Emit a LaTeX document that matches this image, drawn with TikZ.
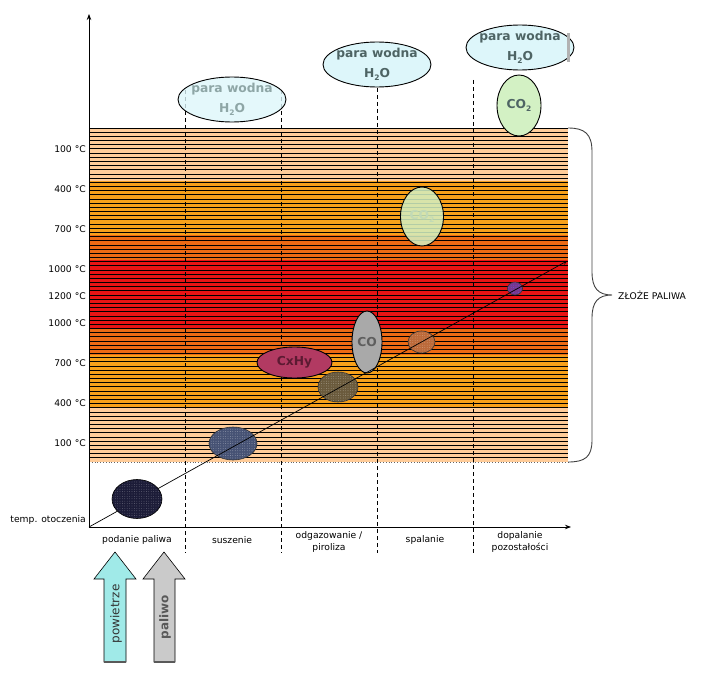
\documentclass[tikz,border=0pt]{standalone}
\usepackage{fontspec}
\setmainfont{DejaVu Sans}
\usetikzlibrary{shapes.geometric,arrows.meta,patterns.meta}
\definecolor{peach}{HTML}{FFCC99}
\definecolor{orng}{HTML}{F7A01A}
\definecolor{dorng}{HTML}{EC6A14}
\definecolor{redb}{HTML}{E81414}
\definecolor{cyanL}{HTML}{DDF6FA}
\definecolor{greenL}{HTML}{D3F1C4}
\definecolor{slateT}{HTML}{4E6464}
\definecolor{fadeT}{HTML}{8EA6A6}
\definecolor{cxhy}{HTML}{B23A62}
\definecolor{cxhyT}{HTML}{5C1A32}
\definecolor{coF}{HTML}{A9A9A9}
\definecolor{coT}{HTML}{5E5E5E}
\definecolor{navy}{HTML}{1C1C38}
\definecolor{slateB}{HTML}{465274}
\definecolor{olive}{HTML}{6A5A3C}
\definecolor{brwn}{HTML}{BC6A3A}
\definecolor{purp}{HTML}{76378E}
\definecolor{airC}{HTML}{A0EAE8}
\definecolor{fuelC}{HTML}{CACACA}
\newcommand{\subtwo}{\raisebox{-0.35ex}{\fontsize{7.5}{7.5}\selectfont 2}}
\begin{document}
\begin{tikzpicture}[x=1pt,y=-1pt,
  bandline/.style={black,line width=0.75pt},
  divider/.style={black,line width=0.8pt,dash pattern=on 4pt off 3pt},
  lbl/.style={font=\fontsize{9.2}{12.5}\selectfont,inner sep=0pt,align=center},
  tick/.style={font=\fontsize{9.2}{11}\selectfont,inner sep=0pt,anchor=east},
  gas/.style={ellipse,draw=black,line width=0.9pt,inner sep=0pt,font=\bfseries\fontsize{12.3}{15}\selectfont,align=center},
  vapour/.style={ellipse,draw=black,line width=0.9pt,inner sep=0pt,minimum width=108pt,minimum height=45pt},
  vaptext/.style={font=\bfseries\fontsize{12.3}{20}\selectfont,align=center,inner sep=0pt},
  blob/.style={ellipse,draw=black!80,line width=0.6pt,inner sep=0pt},
  dotsfill/.style={pattern={Dots[distance=2.4pt,radius=0.35pt]},pattern color=#1},
  bigarrow/.style={draw=black,line width=0.6pt},
]
\useasboundingbox (0,0) rectangle (720,674);
% temperature bands
\fill[peach] (89,128) rectangle (568,181);
\fill[orng]  (89,181) rectangle (568,235);
\fill[dorng] (89,235) rectangle (568,260);
\fill[redb]  (89,260) rectangle (568,328);
\fill[dorng] (89,328) rectangle (568,355);
\fill[orng]  (89,355) rectangle (568,408);
\fill[peach] (89,408) rectangle (568,462);
\foreach \i in {0,...,79} \draw[bandline] (89,128+\i*4.175) -- (568,128+\i*4.175);
\draw[black!60,dotted,line width=0.8pt] (89,462) -- (568,462);
% temperature labels
\node[tick] (t1) at (86,149) {100 °C};
\node[tick] (t2) at (86,189) {400 °C};
\node[tick] (t3) at (86,229) {700 °C};
\node[tick] (t4) at (86,269) {1000 °C};
\node[tick] (t5) at (86,296) {1200 °C};
\node[tick] (t6) at (86,323) {1000 °C};
\node[tick] (t7) at (86,363) {700 °C};
\node[tick] (t8) at (86,403) {400 °C};
\node[tick] (t9) at (86,443) {100 °C};
% dividers
\coordinate (d1t) at (185,90);  \coordinate (d1b) at (185,553);
\coordinate (d2t) at (281,90);  \coordinate (d2b) at (281,553);
\coordinate (d3t) at (377,88);  \coordinate (d3b) at (377,553);
\coordinate (d4t) at (473,80);  \coordinate (d4b) at (473,553);
\draw[divider] (d1t) -- (d1b);
\draw[divider] (d2t) -- (d2b);
\draw[divider] (d3t) -- (d3b);
\draw[divider] (d4t) -- (d4b);
% water vapour ellipses
\node[vapour,fill=cyanL,fill opacity=0.8] (pw1) at (232,99.5) {};
\node[vaptext,text=fadeT] (pw1t) at (pw1.center) {para wodna\\H\subtwo O};
\node[vapour,fill=cyanL] (pw2) at (377,64.5) {};
\node[vaptext,text=slateT] (pw2t) at (pw2.center) {para wodna\\H\subtwo O};
\node[vapour,fill=cyanL] (pw3) at (520,47.5) {};
\node[vaptext,text=slateT] (pw3t) at (pw3.center) {para wodna\\H\subtwo O};
\fill[black!30] (pw3.east) ++(-7,-14) rectangle ++(3,29);
% other gases
\node[gas,fill=greenL,text=slateT,minimum width=44pt,minimum height=61pt] (co2a) at (519,105.5) {CO\subtwo};
\node[gas,fill=greenL,fill opacity=0.85,text opacity=1,text=greenL!80!gray,minimum width=43pt,minimum height=59pt] (co2b) at (422,216.5) {CO\subtwo};
\node[gas,fill=coF,text=coT,minimum width=30pt,minimum height=62pt] (co) at (367,342) {CO};
\node[gas,fill=cxhy,text=cxhyT,minimum width=75pt,minimum height=31pt] (cx) at (294.5,362.5) {CxHy};
% fuel particles
\node[blob,fill=slateB,minimum width=48pt,minimum height=33pt] (p2) at (233,443.5) {};
\fill[dotsfill=white!60!slateB] (p2.center) ellipse [x radius=23.5pt, y radius=16pt];
\node[blob,fill=olive,minimum width=40pt,minimum height=30pt] (p3) at (338,387) {};
\fill[dotsfill=white!55!olive] (p3.center) ellipse [x radius=19.5pt, y radius=14.5pt];
\node[blob,fill=brwn,minimum width=27pt,minimum height=22pt] (p4) at (421.5,342) {};
\fill[dotsfill=white!45!brwn] (p4.center) ellipse [x radius=13pt, y radius=10.5pt];
\node[blob,fill=purp,minimum width=15pt,minimum height=13pt] (p5) at (515,288.5) {};
\fill[dotsfill=blue!60!white] (p5.center) ellipse [x radius=7pt, y radius=6pt];
% axes and diagonal
\coordinate (o) at (89,527);
\coordinate (ytop) at (89,14);
\coordinate (xend) at (571,527);
\coordinate (dend) at (567,261);
\draw[black,line width=0.8pt,-{Stealth[length=6pt,width=4.5pt]}] (o) -- (ytop);
\draw[black,line width=0.8pt,-{Stealth[length=6pt,width=4.5pt]}] (o) -- (xend);
\draw[black,line width=0.7pt,-{Stealth[length=4pt,width=4pt]}] (o) -- (dend);
\node[blob,draw=black,fill=navy,minimum width=50pt,minimum height=39pt] (p1) at (137,499) {};
\fill[dotsfill=white!45!navy] (p1.center) ellipse [x radius=24.5pt, y radius=19pt];
% brace
\coordinate (bt) at (568,128);
\coordinate (bb) at (568,462);
\coordinate (btip) at (612,295);
\draw[black!75,line width=0.9pt] (bt) .. controls (585,128) and (592,134) .. (592,152) -- (592,272)
  .. controls (592,288) and (598,295) .. (btip)
  .. controls (598,295) and (592,302) .. (592,318) -- (592,440)
  .. controls (592,457) and (585,462) .. (bb);
\node[lbl,anchor=west] (zloze) at (btip) [xshift=6pt] {ZŁOŻE PALIWA};
% axis labels
\node[tick] (amb) at (86,520) {temp. otoczenia};
\node[lbl] (s1) at (137,540) {podanie paliwa};
\node[lbl] (s2) at (232,540) {suszenie};
\node[lbl] (s3) at (329,542) {odgazowanie /\\piroliza};
\node[lbl] (s4) at (425,540) {spalanie};
\node[lbl] (s5) at (520,542) {dopalanie\\pozostałości};
% feed arrows
\draw[bigarrow,fill=airC] (104,662) -- (104,579) -- (94,579) -- (115,552) -- (136,579) -- (126,579) -- (126,662) -- cycle;
\draw[black!65,line width=1.4pt] (104,662) -- (126,662);
\node[rotate=90,font=\fontsize{12}{12}\selectfont,text=black!80,inner sep=0pt] (air) at (116,614) {powietrze};
\draw[bigarrow,fill=fuelC] (154,662) -- (154,579) -- (143,579) -- (164,552) -- (185,579) -- (175,579) -- (175,662) -- cycle;
\draw[black!65,line width=1.4pt] (154,662) -- (175,662);
\node[rotate=90,font=\bfseries\fontsize{12}{12}\selectfont,text=black!65,inner sep=0pt] (fuel) at (165,617) {paliwo};
\end{tikzpicture}
\end{document}
